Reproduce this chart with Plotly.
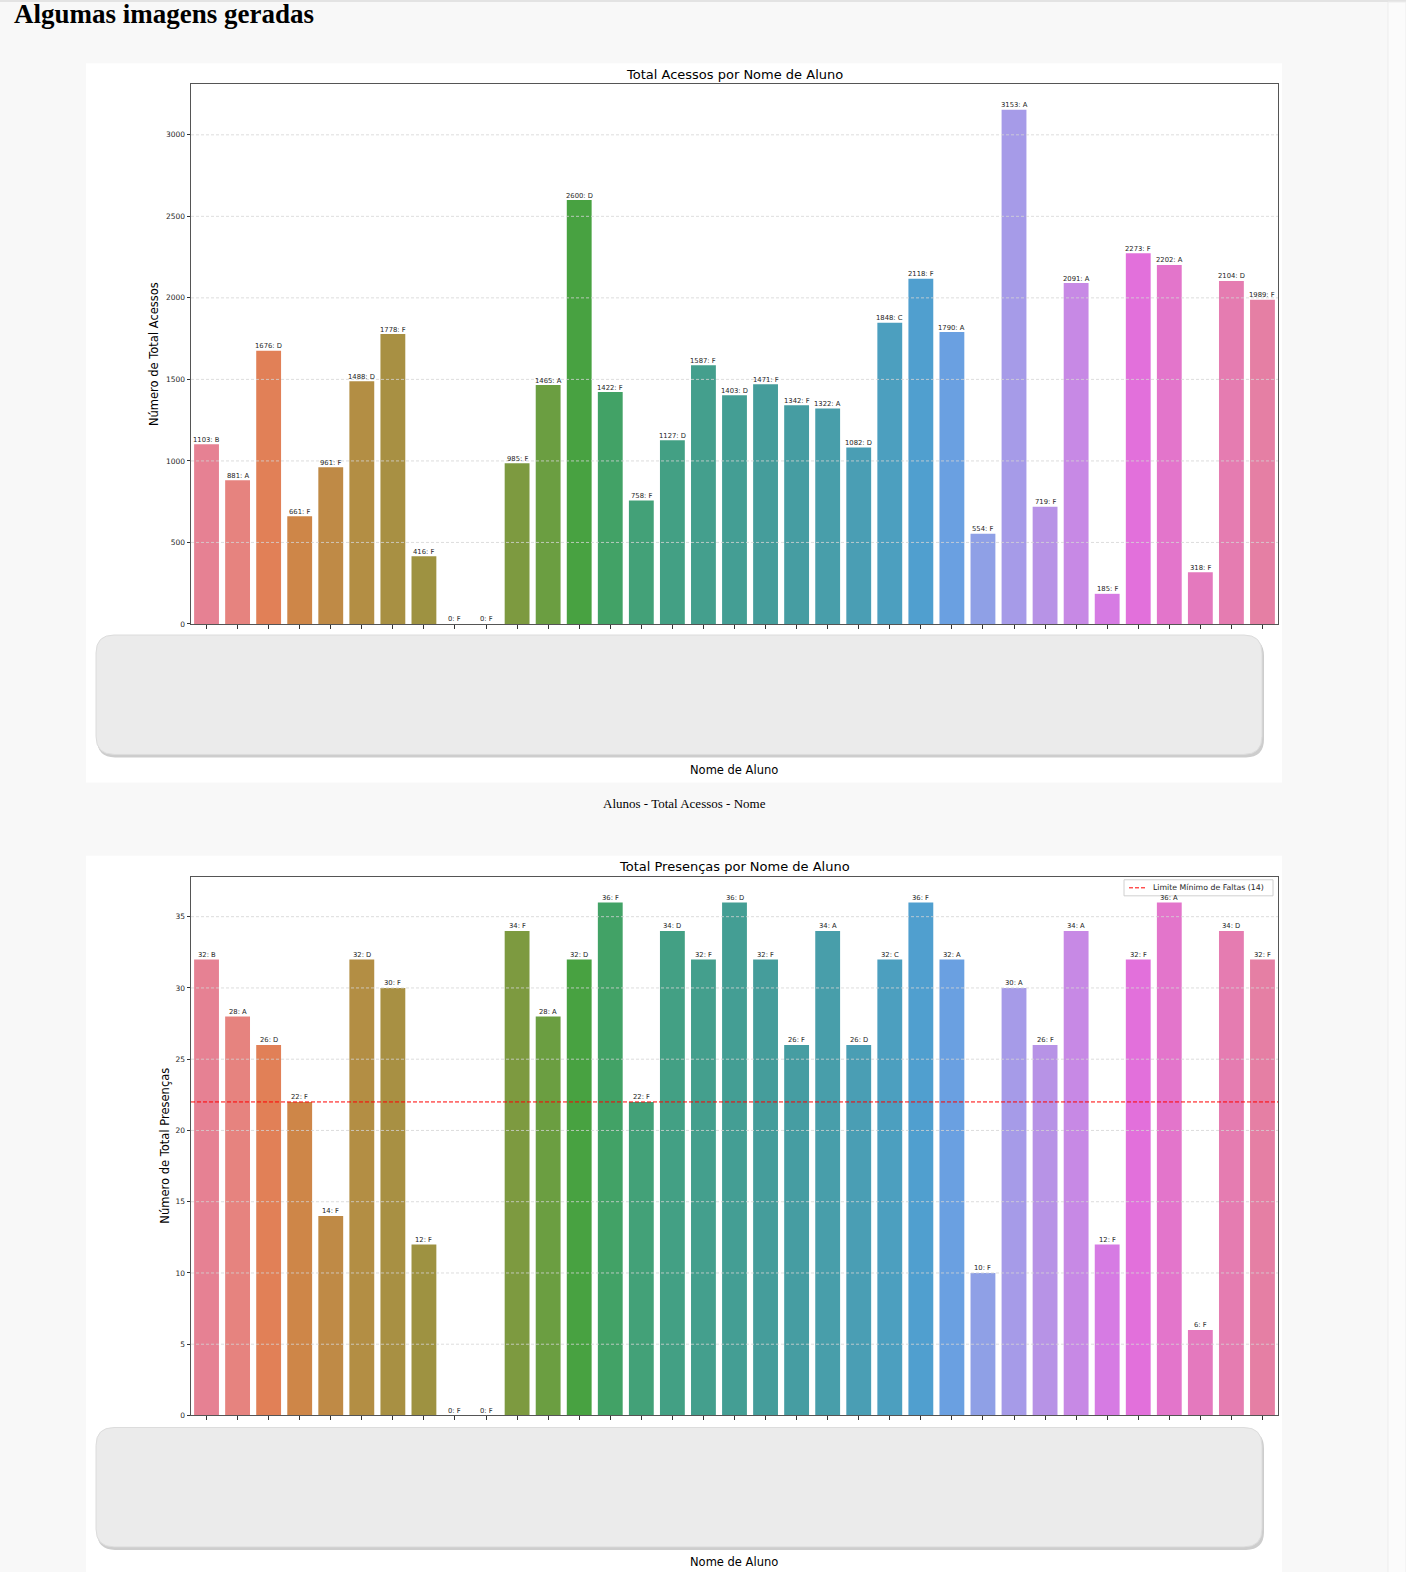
import colorsys
import math
import plotly.graph_objects as go

# dados (nomes dos alunos estao ocultos na imagem original)
alunos = ["Aluno 01", "Aluno 02", "Aluno 03", "Aluno 04", "Aluno 05", "Aluno 06", "Aluno 07",
          "Aluno 08", "Aluno 09", "Aluno 10", "Aluno 11", "Aluno 12", "Aluno 13", "Aluno 14",
          "Aluno 15", "Aluno 16", "Aluno 17", "Aluno 18", "Aluno 19", "Aluno 20", "Aluno 21",
          "Aluno 22", "Aluno 23", "Aluno 24", "Aluno 25", "Aluno 26", "Aluno 27", "Aluno 28",
          "Aluno 29", "Aluno 30", "Aluno 31", "Aluno 32", "Aluno 33", "Aluno 34", "Aluno 35"]
acessos = [1103, 881, 1676, 661, 961, 1488, 1778, 416, 0, 0, 985, 1465, 2600, 1422, 758,
           1127, 1587, 1403, 1471, 1342, 1322, 1082, 1848, 2118, 1790, 554, 3153, 719, 2091,
           185, 2273, 2202, 318, 2104, 1989]
presencas = [32, 28, 26, 22, 14, 32, 30, 12, 0, 0, 34, 28, 32, 36, 22, 34, 32, 36, 32, 26,
             34, 26, 32, 36, 32, 10, 30, 26, 34, 12, 32, 36, 6, 34, 32]
conceitos = ["B", "A", "D", "F", "F", "D", "F", "F", "F", "F", "F", "A", "D", "F", "F", "D",
             "F", "D", "F", "F", "A", "D", "C", "F", "A", "F", "A", "F", "A", "F", "F", "A",
             "F", "D", "F"]
ticks_acessos = [0, 500, 1000, 1500, 2000, 2500, 3000]
ticks_presencas = [0, 5, 10, 15, 20, 25, 30, 35]
total_aulas = 36
limite_faltas = 14
limite_presencas = total_aulas - limite_faltas

# paleta husl (como no seaborn) com saturacao 0.75
M = [[3.2406, -1.5372, -0.4986], [-0.9689, 1.8758, 0.0415], [0.0557, -0.2040, 1.0570]]


def max_chroma(L, H):
    hrad = math.radians(H)
    sinH, cosH = math.sin(hrad), math.cos(hrad)
    sub1 = (L + 16) ** 3 / 1560896.0
    sub2 = sub1 if sub1 > 0.008856 else L / 903.3
    result = float("inf")
    for m1, m2, m3 in M:
        top = (0.99915 * m1 + 1.05122 * m2 + 1.14460 * m3) * sub2
        rbottom = 0.86330 * m3 - 0.17266 * m2
        lbottom = 0.12949 * m3 - 0.38848 * m1
        bottom = (rbottom * sinH + lbottom * cosH) * sub2
        for t in (0.0, 1.0):
            C = L * (top - 1.05122 * t) / (bottom + 0.17266 * sinH * t)
            if 0 < C < result:
                result = C
    return result


def husl_to_rgb(h, s, l):
    C = max_chroma(l, h) / 100.0 * s
    U = math.cos(math.radians(h)) * C
    V = math.sin(math.radians(h)) * C
    t = (l + 16) / 116.0
    varY = t ** 3 if t ** 3 > 0.008856 else (116 * t - 16) / 903.3
    varU = U / (13 * l) + 0.19784
    varV = V / (13 * l) + 0.46834
    Y = varY
    X = -(9 * Y * varU) / ((varU - 4) * varV - varU * varV)
    Z = (9 * Y - 15 * varV * Y - varV * X) / (3 * varV)
    out = []
    for row in M:
        c = row[0] * X + row[1] * Y + row[2] * Z
        c = 12.92 * c if c <= 0.0031308 else 1.055 * c ** (1 / 2.4) - 0.055
        out.append(min(max(c, 0), 1))
    return out


def paleta(n):
    cores = []
    for i in range(n):
        h = ((i / n + 0.01) % 1) * 359
        r, g, b = husl_to_rgb(h, 0.9 * 99, 0.65 * 99)
        hh, ll, ss = colorsys.rgb_to_hls(r, g, b)
        r, g, b = colorsys.hls_to_rgb(hh, ll, ss * 0.75)
        cores.append("rgb(%d,%d,%d)" % (round(r * 255), round(g * 255), round(b * 255)))
    return cores


cores = paleta(len(alunos))
pos = list(range(len(alunos)))

# a captura sai ~0.6% comprimida na vertical, por isso a figura e um pouco mais alta
W, H = 1406, 1582
REF_H = 1572


def px(x):
    return x / W


def py(y):
    return 1 - y / REF_H


def caixa(x0, y0, x1, y1, r):
    a, b, c, d = px(x0), px(x1), py(y0), py(y1)
    rx, ry = r / W, r / REF_H
    return ("M %f,%f L %f,%f Q %f,%f %f,%f L %f,%f Q %f,%f %f,%f L %f,%f Q %f,%f %f,%f "
            "L %f,%f Q %f,%f %f,%f Z" % (
                a + rx, c, b - rx, c, b, c, b, c - ry, b, d + ry, b, d, b - rx, d,
                a + rx, d, a, d, a, d + ry, a, c - ry, a, c, a + rx, c))


fig = go.Figure()

fig.add_trace(go.Bar(x=pos, y=acessos, marker=dict(color=cores, line=dict(width=0)),
                     showlegend=False, hovertext=alunos, xaxis="x", yaxis="y"))
fig.add_trace(go.Bar(x=pos, y=presencas, marker=dict(color=cores, line=dict(width=0)),
                     showlegend=False, hovertext=alunos, xaxis="x2", yaxis="y2"))
fig.add_trace(go.Scatter(x=[-0.5, len(alunos) - 0.5], y=[limite_presencas, limite_presencas],
                         mode="lines", line=dict(color="red", width=1, dash="4px,2px"),
                         name=f"Limite Mínimo de Faltas ({limite_faltas})", showlegend=False,
                         xaxis="x2", yaxis="y2"))

eixo_x = dict(range=[-0.5, len(alunos) - 0.5], tickvals=pos, ticktext=alunos,
              showticklabels=False, ticks="outside", ticklen=4, tickcolor="#333",
              showgrid=False, zeroline=False, showline=True, mirror=True,
              linecolor="#555", linewidth=1)
eixo_y = dict(ticks="outside", ticklen=3.5, tickcolor="#333", showgrid=False, zeroline=False,
              showline=True, mirror=True, linecolor="#555", linewidth=1,
              tickfont=dict(size=7.5, color="#262626"))

shapes = [
    dict(type="rect", xref="paper", yref="paper", x0=px(86), x1=px(1282), y0=py(780), y1=py(63),
         fillcolor="white", line=dict(width=0), layer="below"),
    dict(type="rect", xref="paper", yref="paper", x0=px(86), x1=px(1282), y0=0, y1=py(853),
         fillcolor="white", line=dict(width=0), layer="below"),
    dict(type="rect", xref="paper", yref="paper", x0=0, x1=1, y0=py(2), y1=1,
         fillcolor="#e3e3e3", line=dict(width=0), layer="below"),
    dict(type="rect", xref="paper", yref="paper", x0=px(1388), x1=1, y0=0, y1=py(2),
         fillcolor="#fbfbfb", line=dict(color="#ededed", width=1), layer="below"),
]
for v in ticks_acessos[1:]:
    shapes.append(dict(type="line", xref="x domain", yref="y", x0=0, x1=1, y0=v, y1=v,
                       line=dict(color="#d4d4d4", width=0.8, dash="3px,2px"), layer="above"))
for v in ticks_presencas[1:]:
    shapes.append(dict(type="line", xref="x2 domain", yref="y2", x0=0, x1=1, y0=v, y1=v,
                       line=dict(color="#d4d4d4", width=0.8, dash="3px,2px"), layer="above"))
for top, bot in [(633, 752), (1423, 1542)]:
    shapes.append(dict(type="path", xref="paper", yref="paper",
                       path=caixa(97, top + 3, 1264, bot + 3, 18),
                       fillcolor="#cdcdcd", line=dict(width=0), layer="above"))
    shapes.append(dict(type="path", xref="paper", yref="paper", path=caixa(96, top, 1262, bot, 18),
                       fillcolor="#ebebeb", line=dict(color="#dcdcdc", width=1), layer="above"))

# legenda desenhada a mao (mais compacta, como no matplotlib)
shapes.append(dict(type="rect", xref="paper", yref="paper", x0=px(1124), x1=px(1273),
                   y0=py(893), y1=py(877), fillcolor="rgba(255,255,255,0.85)",
                   line=dict(color="#d0d0d0", width=1), layer="above"))
shapes.append(dict(type="line", xref="paper", yref="paper", x0=px(1129), x1=px(1146),
                   y0=py(885), y1=py(885), line=dict(color="red", width=1, dash="4px,2px"),
                   layer="above"))

anot = dict(xref="paper", yref="paper", showarrow=False, xanchor="center", yanchor="middle")
annotations = [
    dict(anot, text="<b>Algumas imagens geradas</b>", x=px(12), y=py(14), xanchor="left",
         font=dict(family="Liberation Serif", size=27, color="black")),
    dict(anot, text="Total Acessos por Nome de Aluno", x=px(734), y=py(74),
         font=dict(size=13, color="black")),
    dict(anot, text="Número de Total Acessos", x=px(154), y=py(353), textangle=-90,
         font=dict(size=11.5, color="black")),
    dict(anot, text="Nome de Aluno", x=px(734), y=py(768), font=dict(size=11.5, color="black")),
    dict(anot, text="Alunos - Total Acessos - Nome", x=px(684), y=py(801),
         font=dict(family="Liberation Serif", size=13, color="black")),
    dict(anot, text="Total Presenças por Nome de Aluno", x=px(734), y=py(864),
         font=dict(size=13, color="black")),
    dict(anot, text="Número de Total Presenças", x=px(165), y=py(1142), textangle=-90,
         font=dict(size=11.5, color="black")),
    dict(anot, text="Nome de Aluno", x=px(734), y=py(1557), font=dict(size=11.5, color="black")),
    dict(anot, text=f"Limite Mínimo de Faltas ({limite_faltas})", x=px(1151), y=py(885),
         xanchor="left", font=dict(size=7.8, color="#262626")),
]
for i, (v, c) in enumerate(zip(acessos, conceitos)):
    annotations.append(dict(x=i, y=v, xref="x", yref="y", text=f"{v}: {c}", showarrow=False,
                            yanchor="bottom", yshift=-1.5,
                            font=dict(size=6.8, color="#262626")))
for i, (v, c) in enumerate(zip(presencas, conceitos)):
    annotations.append(dict(x=i, y=v, xref="x2", yref="y2", text=f"{v}: {c}", showarrow=False,
                            yanchor="bottom", yshift=-1.5,
                            font=dict(size=6.8, color="#262626")))

fig.update_layout(
    width=W, height=H, margin=dict(l=0, r=0, t=0, b=0, pad=0),
    paper_bgcolor="#f8f8f8", plot_bgcolor="white",
    font=dict(family="DejaVu Sans", color="#262626"),
    bargap=0.2,
    xaxis=dict(eixo_x, domain=[px(191), px(1278)], anchor="y"),
    yaxis=dict(eixo_y, domain=[py(622), py(84)], range=[0, 3310], tickvals=ticks_acessos,
               anchor="x"),
    xaxis2=dict(eixo_x, domain=[px(191), px(1278)], anchor="y2"),
    yaxis2=dict(eixo_y, domain=[py(1411), py(874)], range=[0, 37.8], tickvals=ticks_presencas,
                anchor="x2"),
    shapes=shapes, annotations=annotations,
)

fig.write_html("out.html", config={"displayModeBar": False},
               post_script="document.body.style.margin = '0'; document.body.style.overflow = 'hidden';"
                           "var d = document.getElementById('{plot_id}');"
                           "d.style.position = 'absolute'; d.style.top = '0'; d.style.left = '0';")
